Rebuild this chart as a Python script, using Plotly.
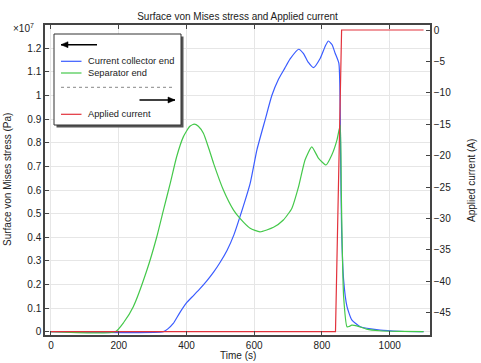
import plotly.graph_objects as go

# ---------------- data ----------------
t_cc = [0, 332, 345, 361, 380, 400, 420, 440, 460, 480, 500, 520, 540, 558, 588, 608, 632, 652, 672,
        690, 706, 731, 745, 760, 775, 795, 810, 819, 830, 839, 850, 855, 858, 864, 874, 888, 913, 972,
        1030, 1100]
s_cc = [0, 0, 0.012, 0.035, 0.08, 0.122, 0.152, 0.182, 0.215, 0.252, 0.295, 0.345, 0.41, 0.487,
        0.628, 0.77, 0.896, 1.0, 1.07, 1.115, 1.155, 1.196, 1.179, 1.14, 1.118, 1.158, 1.21, 1.231,
        1.215, 1.179, 1.136, 0.75, 0.43, 0.219, 0.106, 0.05, 0.021, 0.007, 0.002, 0.0]

t_sep = [0, 190, 215, 243, 283, 312, 332, 352, 371, 391, 410, 423, 435, 450, 465, 480, 509,
         539, 558, 588, 617, 657, 686, 711, 731, 750, 770, 790, 812, 829, 844, 854, 857, 860,
         864, 874, 880, 888, 903, 932, 970, 1030, 1100]
s_sep = [0, 0, 0.04, 0.106, 0.26, 0.40, 0.515, 0.628, 0.741, 0.826, 0.87, 0.879, 0.87, 0.84,
         0.78, 0.713, 0.60, 0.515, 0.48, 0.438, 0.423, 0.442, 0.473, 0.522, 0.614, 0.727, 0.783,
         0.734, 0.706, 0.748, 0.81, 0.875, 0.6, 0.35, 0.148, 0.021, 0.022, 0.028, 0.025, 0.011,
         0.004, 0.001, 0.0]

t_cur = [0, 840, 858, 1100]
i_cur = [-48, -48, 0, 0]

x_ticks = [0, 200, 400, 600, 800, 1000]
y_ticks = [0, 0.1, 0.2, 0.3, 0.4, 0.5, 0.6, 0.7, 0.8, 0.9, 1.0, 1.1, 1.2]
y_tick_text = ["0", "0.1", "0.2", "0.3", "0.4", "0.5", "0.6", "0.7", "0.8", "0.9", "1", "1.1", "1.2"]
y2_ticks = [0, -5, -10, -15, -20, -25, -30, -35, -40, -45]

SCALE = 1e7
names = ["Current collector end", "Separator end", "Applied current"]
colors = ["#3a5cff", "#44c84a", "#e2323c"]

FONT = "Liberation Sans, Arial, sans-serif"
AX = "#444444"
TXT = "#222222"

fig = go.Figure()
fig.add_trace(go.Scatter(x=t_cc, y=[v * SCALE for v in s_cc], mode="lines", name=names[0],
                         line=dict(color=colors[0], width=1.2, shape="spline", smoothing=0.5), yaxis="y"))
fig.add_trace(go.Scatter(x=t_sep, y=[v * SCALE for v in s_sep], mode="lines", name=names[1],
                         line=dict(color=colors[1], width=1.2, shape="spline", smoothing=0.5), yaxis="y"))
fig.add_trace(go.Scatter(x=t_cur, y=i_cur, mode="lines", name=names[2],
                         line=dict(color=colors[2], width=1.2), yaxis="y2"))

# plot area in pixels
L, R, T, B = 45, 430, 25, 335
W, H = 481, 363


def X(px):
    return (px - L) / (R - L)


def Y(py):
    return (B - py) / (B - T)


shapes = []
annotations = []

# legend box with shadow
shapes.append(dict(type="rect", xref="paper", yref="paper", x0=X(56.5), x1=X(183.5), y0=Y(127.5), y1=Y(36.5),
                   fillcolor="#555555", line=dict(width=0), layer="above"))
shapes.append(dict(type="rect", xref="paper", yref="paper", x0=X(54), x1=X(181), y0=Y(125), y1=Y(34),
                   fillcolor="white", line=dict(color="#333333", width=1), layer="above"))
# sample lines
for py, c in [(61.3, colors[0]), (73.0, colors[1]), (114.3, colors[2])]:
    shapes.append(dict(type="line", xref="paper", yref="paper", x0=X(61), x1=X(81.5), y0=Y(py), y1=Y(py),
                       line=dict(color=c, width=1.2), layer="above"))
# dotted separator
shapes.append(dict(type="line", xref="paper", yref="paper", x0=X(61), x1=X(175), y0=Y(87.3), y1=Y(87.3),
                   line=dict(color="#888888", width=1, dash="dot"), layer="above"))


def arrow(x_head, x_tail, py):
    # shaft
    shapes.append(dict(type="line", xref="paper", yref="paper", x0=X(x_tail), x1=X(x_head), y0=Y(py), y1=Y(py),
                       line=dict(color="black", width=1.5), layer="above"))
    d = 1 if x_head > x_tail else -1
    xb = x_head - d * 7
    path = "M {},{} L {},{} L {},{} Z".format(X(x_head), Y(py), X(xb), Y(py - 3), X(xb), Y(py + 3))
    shapes.append(dict(type="path", xref="paper", yref="paper", path=path,
                       fillcolor="black", line=dict(color="black", width=0.5), layer="above"))


arrow(61, 97, 44.7)
arrow(175, 139.5, 100)

for py, txt in [(61.3, names[0]), (73.0, names[1]), (114.3, names[2])]:
    annotations.append(dict(xref="paper", yref="paper", x=X(85.5), y=Y(py), text=txt, showarrow=False,
                            xanchor="left", yanchor="middle", font=dict(family=FONT, size=9.3, color=TXT)))
# exponent label
annotations.append(dict(xref="paper", yref="paper", x=X(23), y=Y(28), text="×10<sup>7</sup>", showarrow=False,
                        xanchor="center", yanchor="middle", font=dict(family=FONT, size=10, color=TXT)))
# axis titles
annotations.append(dict(xref="paper", yref="paper", x=X(238), y=Y(355.5), text="Time (s)", showarrow=False,
                        xanchor="center", yanchor="middle", font=dict(family=FONT, size=10, color=TXT)))
annotations.append(dict(xref="paper", yref="paper", x=X(7), y=Y(180), text="Surface von Mises stress (Pa)",
                        showarrow=False, textangle=-90, xanchor="center", yanchor="middle",
                        font=dict(family=FONT, size=10, color=TXT)))
annotations.append(dict(xref="paper", yref="paper", x=X(471), y=Y(180), text="Applied current (A)",
                        showarrow=False, textangle=-90, xanchor="center", yanchor="middle",
                        font=dict(family=FONT, size=10, color=TXT)))

fig.update_layout(
    width=W, height=H, autosize=False,
    margin=dict(l=L, r=W - R, t=T, b=H - B, autoexpand=False),
    paper_bgcolor="white", plot_bgcolor="white",
    font=dict(family=FONT, size=10, color=TXT),
    showlegend=False,
    title=dict(text="Surface von Mises stress and Applied current", x=0.5, xref="paper",
               y=1 - 16 / H, yref="container", yanchor="middle", xanchor="center",
               font=dict(family=FONT, size=10, color=TXT)),
    xaxis=dict(range=[-17.7, 1119], tickvals=x_ticks, ticks="inside", ticklen=4, tickcolor=AX,
               showline=True, linecolor=AX, linewidth=1.5, mirror="ticks", automargin=False,
               showgrid=True, gridcolor="#e6e6e6", gridwidth=1, zeroline=False),
    yaxis=dict(range=[-0.01397 * SCALE, 1.2987 * SCALE], tickvals=[v * SCALE for v in y_ticks],
               ticktext=y_tick_text, ticks="inside", ticklen=4, tickcolor=AX, automargin=False,
               showline=True, linecolor=AX, linewidth=1.5,
               showgrid=True, gridcolor="#e6e6e6", gridwidth=1, zeroline=False),
    yaxis2=dict(range=[-48.55, 0.796], tickvals=y2_ticks, overlaying="y", side="right",
                ticks="inside", ticklen=4, tickcolor=AX, automargin=False,
                showline=True, linecolor=AX, linewidth=1.5,
                showgrid=False, zeroline=False),
    shapes=shapes,
    annotations=annotations,
)

fig.write_html("out.html", config={"displayModeBar": False},
               post_script="document.body.style.margin='0';document.body.style.padding='0';")
